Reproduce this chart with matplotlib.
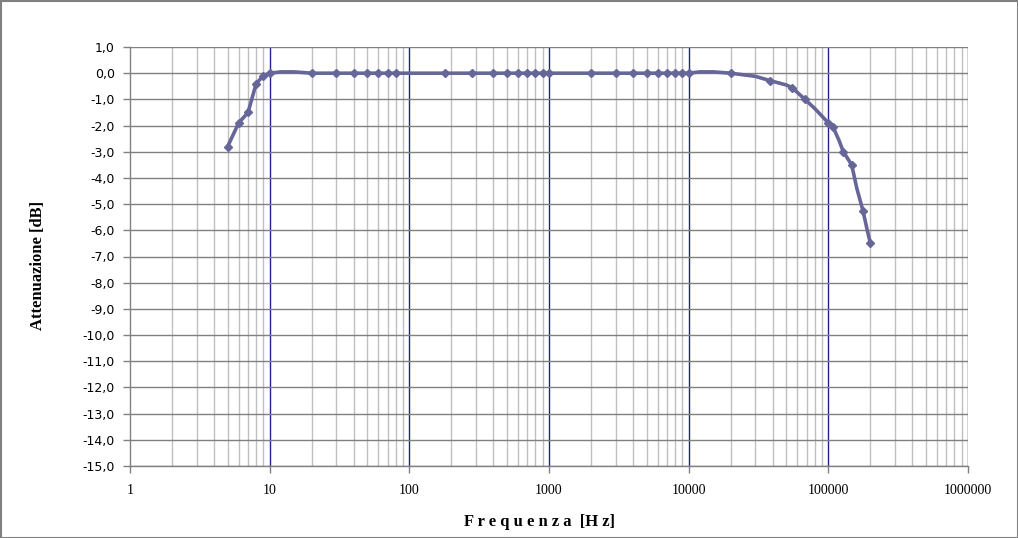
import numpy as np
import matplotlib
matplotlib.use('Agg')
import matplotlib.pyplot as plt
from matplotlib.ticker import FixedLocator, NullFormatter

# frequency response data
freq = [5, 6, 7, 8, 9, 10, 12, 15, 20, 30, 40, 50, 60, 70, 80,
        180, 280, 400, 500, 600, 700, 800, 900, 1000,
        2000, 3000, 4000, 5000, 6000, 7000, 8000, 9000, 10000, 12000, 15000,
        20000, 30000, 38000, 50000, 55000, 68000, 80000, 100000, 108000,
        120000, 128000, 147000, 160000, 177000, 190000, 200000]
att_db = [-2.8, -1.9, -1.5, -0.4, -0.1, 0.0, 0.05, 0.05, 0.0, 0.0, 0.0, 0.0, 0.0, 0.0, 0.0,
          0.0, 0.0, 0.0, 0.0, 0.0, 0.0, 0.0, 0.0, 0.0,
          0.0, 0.0, 0.0, 0.0, 0.0, 0.0, 0.0, 0.0, 0.0, 0.05, 0.05,
          0.0, -0.12, -0.28, -0.45, -0.55, -1.0, -1.35, -1.9, -2.05,
          -2.6, -3.0, -3.5, -4.4, -5.25, -6.0, -6.5]
# frequencies where the chart shows a marker
marked = [5, 6, 7, 8, 9, 10, 20, 30, 40, 50, 60, 70, 80,
          180, 280, 400, 500, 600, 700, 800, 900, 1000,
          2000, 3000, 4000, 5000, 6000, 7000, 8000, 9000, 10000,
          20000, 38000, 55000, 68000, 100000, 108000, 128000, 147000, 177000, 200000]

y_ticks = np.arange(-15, 2, 1)
x_ticks = [1, 10, 100, 1000, 10000, 100000, 1000000]
x_tick_labels = ['1', '10', '100', '1000', '10000', '100000', '1000000']

fig = plt.figure(figsize=(10.18, 5.38), dpi=100)
ax = fig.add_axes([130/1018, 72/538, 838/1018, 419/538])

ax.set_xscale('log')
ax.set_xlim(1, 1e6)
ax.set_ylim(-15, 1)

# grid
minors = [m * 10**d for d in range(6) for m in range(2, 10)]
for xv in minors:
    ax.axvline(xv, color='#c0c0c0', lw=1, zorder=0)
for xv in x_ticks[1:]:
    ax.axvline(xv, color='#202090', lw=1, zorder=1)
for yv in y_ticks:
    ax.axhline(yv, color='#808080', lw=1, zorder=1)

mark_idx = [i for i, f in enumerate(freq) if f in marked]
ax.plot(freq, att_db, color='#666699', lw=2.6, marker='D', ms=3.8,
        markeredgecolor='#666699', markevery=mark_idx, zorder=3)

ax.xaxis.set_major_locator(FixedLocator(x_ticks))
ax.xaxis.set_minor_locator(FixedLocator([]))
ax.xaxis.set_minor_formatter(NullFormatter())
ax.set_xticklabels(x_tick_labels, fontfamily='Liberation Serif', fontsize=10)
ax.set_yticks(y_ticks)
ax.set_yticklabels([('%.1f' % v).replace('.', ',') for v in y_ticks],
                   fontfamily='DejaVu Sans', fontsize=9)
ax.tick_params(axis='both', direction='out', length=5, color='#808080', width=1)
ax.tick_params(axis='x', pad=8)
ax.tick_params(axis='y', pad=6)

for s in ['top', 'right']:
    ax.spines[s].set_visible(False)
for s in ['left', 'bottom']:
    ax.spines[s].set_color('#808080')
    ax.spines[s].set_linewidth(1)

fig.text(540/1018, 1 - 522/538, 'F r e q u e n z a  [H z]', ha='center', va='center',
         fontfamily='Liberation Serif', fontweight='bold', fontsize=12)
fig.text(38/1018, 1 - 265/538, 'Attenuazione [dB]', ha='center', va='center',
         rotation=90, fontfamily='Liberation Serif', fontweight='bold', fontsize=12)

# chart area border
fig.patches.append(plt.Rectangle((0.5/1018, 0), 1 - 1/1018, 1 - 1/538, transform=fig.transFigure,
                                 fill=False, edgecolor='#808080', lw=1.5))

fig.savefig('out.png', dpi=100)
